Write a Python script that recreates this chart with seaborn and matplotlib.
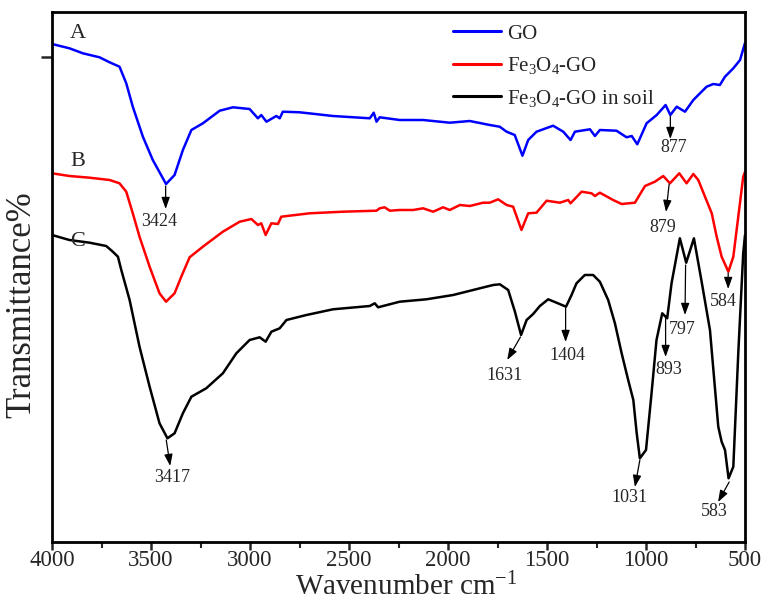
import matplotlib
matplotlib.use("Agg")
import matplotlib.pyplot as plt
import seaborn as sns
import pandas as pd

# ---------------- data ----------------
go_wn = [4000, 3912, 3844, 3760, 3709, 3659, 3625, 3592, 3541, 3491, 3424, 3381, 3339,
         3296, 3238, 3153, 3086, 3002, 2960, 2943, 2917, 2867, 2850, 2834, 2749, 2581,
         2395, 2375, 2361, 2345, 2244, 2126, 1991, 1890, 1789, 1739, 1704, 1663, 1624,
         1595, 1553, 1469, 1418, 1381, 1359, 1283, 1258, 1233, 1149, 1098, 1072, 1044,
         997, 946, 901, 877, 845, 803, 761, 694, 660, 627, 601, 559, 525, 500]
go_t = [498, 493.7, 488.7, 484.7, 479.7, 475.3, 458.7, 435.3, 405.3, 382, 358, 367, 392,
        412, 418.7, 431.3, 434.7, 433, 423.7, 427, 420.3, 426, 423.7, 430.3, 429.7, 426,
        423.7, 429.3, 420.3, 424.7, 422, 422, 419.3, 421, 417, 415.3, 410.3, 407, 386.3,
        402, 410.3, 416.3, 410.3, 402, 410.3, 412.7, 406, 412, 411.3, 404.7, 406, 397.7,
        418.7, 427, 437, 427, 435.3, 430.3, 442, 455.3, 458, 457, 465.3, 473.7, 482, 499]

fego_wn = [4000, 3912, 3810, 3709, 3659, 3625, 3592, 3558, 3507, 3457, 3424, 3381, 3347,
           3305, 3238, 3137, 3052, 2993, 2960, 2943, 2921, 2892, 2859, 2842, 2699, 2530,
           2361, 2345, 2320, 2294, 2244, 2176, 2126, 2075, 2025, 1991, 1940, 1890, 1823,
           1789, 1747, 1704, 1671, 1629, 1595, 1553, 1502, 1435, 1393, 1381, 1325, 1275,
           1258, 1233, 1166, 1123, 1056, 1005, 955, 913, 879, 832, 795, 761, 736, 702,
           668, 643, 618, 584, 559, 534, 509, 500]
fego_t = [368.7, 366, 364.3, 362, 358.7, 350.3, 328.7, 305.3, 275.3, 248.7, 240.3, 248.7,
          265.3, 284.7, 295.3, 310.3, 320.3, 323, 317, 318.7, 307, 318.7, 318, 325.3,
          328.7, 330.3, 331.3, 333.7, 334.7, 331.3, 332, 332, 333.7, 330.3, 334.7, 332,
          337, 336, 339.3, 339.3, 342.7, 337, 335.3, 312, 328.7, 329.3, 341.3, 339.3, 342,
          338.7, 350.3, 348.7, 346, 349.3, 342, 338, 339.3, 356, 360.3, 366, 358.7, 368.7,
          358.7, 368, 362, 345.3, 328.7, 305.3, 285.3, 270.3, 285.3, 325.3, 365.3, 370]

soil_wn = [4000, 3912, 3810, 3726, 3693, 3667, 3650, 3608, 3558, 3507, 3457, 3417, 3381,
           3339, 3296, 3221, 3137, 3069, 3002, 2951, 2921, 2892, 2850, 2816, 2715, 2581,
           2395, 2370, 2353, 2244, 2109, 1974, 1839, 1772, 1738, 1696, 1662, 1631, 1603,
           1570, 1536, 1494, 1452, 1404, 1376, 1351, 1309, 1267, 1233, 1191, 1157, 1123,
           1090, 1064, 1047, 1031, 1000, 972, 947, 918, 893, 871, 829, 797, 758, 719, 677,
           635, 618, 601, 583, 559, 534, 509, 500]
soil_t = [307, 302, 299.3, 296, 290.3, 285.3, 272, 242, 195.3, 155.3, 118.7, 103.7, 108.7,
          128.7, 145.3, 153.7, 168.7, 188.7, 202, 204.7, 200.3, 210.3, 213.7, 222, 227,
          232.7, 236, 238.7, 234.7, 240.3, 242.7, 247, 253.7, 257, 257.7, 252, 230.3, 207,
          222, 228, 236, 242.7, 239.3, 235.3, 247, 258.7, 267, 267, 260.3, 242, 218.7,
          188.7, 162, 142, 108.7, 83.7, 92, 148.7, 202, 228.7, 223.7, 258.7, 303.7, 279.3,
          303.7, 260.3, 212, 115.3, 100.3, 92, 63.7, 75.3, 188.7, 288.7, 307]

series_names = ["GO", "Fe$_3$O$_4$-GO", "Fe$_3$O$_4$-GO in soil"]
series_colors = ["#0000ff", "#ff0000", "#000000"]
curve_letters = ["A", "B", "C"]

# peak annotations: label, tail (wn, T), head (wn, T), text centre (wn, T)
peak_labels = ["3424", "877", "879", "584", "3417", "1631", "1404", "1031", "893", "797", "583"]
peak_tail = [(3426, 356), (877, 426), (883, 358), (585, 269), (3423, 102), (1634, 205),
             (1406, 234), (1031, 82), (901, 223.5), (800, 277), (580, 60)]
peak_head = [(3426, 333), (877, 403), (899, 330), (585, 253), (3403, 76), (1701, 182),
             (1406, 200), (1056, 55), (901, 185), (803, 227), (636, 40)]
peak_text = [(3457, 320), (859, 395), (914, 315), (612, 240), (3391, 65), (1713, 167),
             (1395, 186), (1081, 45), (884, 173), (815, 212), (653, 30)]

xticks = [4000, 3500, 3000, 2500, 2000, 1500, 1000, 500]

# ---------------- plotting ----------------
sns.set_theme(style="ticks")
plt.rcParams["font.family"] = ["Liberation Serif", "DejaVu Serif"]
plt.rcParams["mathtext.fontset"] = "custom"
plt.rcParams["mathtext.rm"] = "Liberation Serif"
plt.rcParams["mathtext.it"] = "Liberation Serif:italic"

fig = plt.figure(figsize=(7.73, 6.01), dpi=100)
ax = fig.add_axes([52 / 773, 59 / 601, 693 / 773, 530 / 601])

frames = []
for name, wn, t in [(series_names[0], go_wn, go_t),
                    (series_names[1], fego_wn, fego_t),
                    (series_names[2], soil_wn, soil_t)]:
    frames.append(pd.DataFrame({"wavenumber": wn, "T": t, "sample": name}))
df = pd.concat(frames, ignore_index=True)

sns.lineplot(data=df, x="wavenumber", y="T", hue="sample", hue_order=series_names,
             palette=series_colors, estimator=None, sort=False, linewidth=1.8,
             legend=False, ax=ax)

ax.set_xlim(4000, 500)
ax.set_ylim(0, 530)
ax.set_xticks(xticks)
ax.set_xticklabels([str(v) for v in xticks], fontsize=16.5)
ax.set_xticks([3750, 3250, 2750, 2250, 1750, 1250, 750], minor=True)
ax.set_yticks([485])
ax.set_yticklabels([""])
ax.tick_params(axis="x", which="major", direction="out", length=6, width=1.8, pad=0)
ax.tick_params(axis="x", which="minor", direction="out", length=4, width=1.5)
ax.tick_params(axis="y", which="major", direction="out", length=8, width=1.8)
for sp in ax.spines.values():
    sp.set_visible(True)
    sp.set_linewidth(2.0)
    sp.set_color("black")

ax.set_xlabel("Wavenumber cm$^{-1}$", fontsize=21)
ax.xaxis.set_label_coords(0.511, -0.058)
ax.set_ylabel("Transmittance%", fontsize=25)
ax.yaxis.set_label_coords(-0.02, 0.447)

# curve letters
letter_pos = [(3870, 508), (3870, 380), (3870, 300)]
for letter, (x, y) in zip(curve_letters, letter_pos):
    ax.text(x, y, letter, fontsize=16, ha="center", va="center")

# peak annotations
for lab, tail, head, tpos in zip(peak_labels, peak_tail, peak_head, peak_text):
    ax.annotate("", xy=head, xytext=tail,
                arrowprops=dict(arrowstyle="-|>,head_length=0.7,head_width=0.25",
                                color="black", lw=0.9, shrinkA=0, shrinkB=0,
                                mutation_scale=10))
    ax.text(tpos[0], tpos[1], lab, fontsize=13, ha="center", va="center")

# legend
handles = [plt.Line2D([], [], color=c, lw=2.2) for c in series_colors]
ax.legend(handles, series_names, loc="upper left",
          bbox_to_anchor=(453 / 773, (601 - 24) / 601), bbox_transform=fig.transFigure,
          frameon=False, fontsize=15, handlelength=2.3, handletextpad=0.3,
          labelspacing=0.55, borderpad=0, borderaxespad=0)

fig.savefig("out.png", dpi=100)
